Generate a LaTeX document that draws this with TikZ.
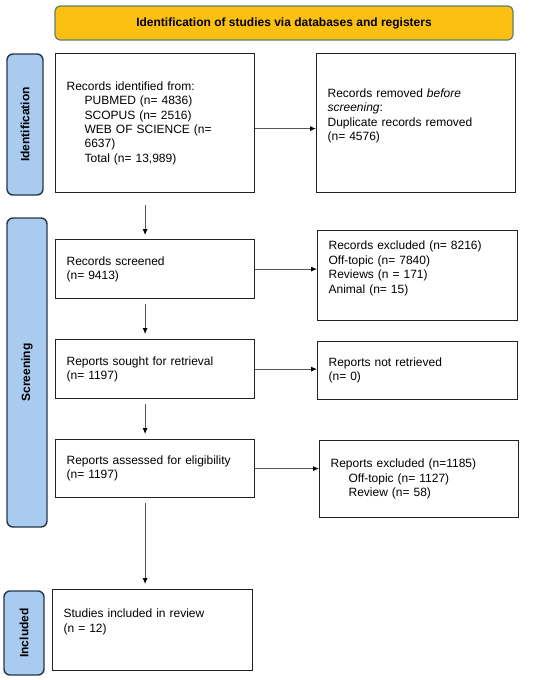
\documentclass[tikz,border=0pt]{standalone}
\usepackage{fontspec}
\setmainfont{Liberation Sans}
\usepackage{tikz}
\usetikzlibrary{arrows.meta, positioning, calc}
\definecolor{bannerGold}{HTML}{FCC012}
\definecolor{bannerEdge}{HTML}{5E7F6A}
\definecolor{phaseBlue}{HTML}{A9CBF0}
\definecolor{phaseEdge}{HTML}{27364A}
\definecolor{boxEdge}{HTML}{222222}
\definecolor{lineGray}{HTML}{555555}
\tikzset{
    % Common
    bodyText/.style={font=\fontsize{12}{14.4}\selectfont},
    arrowFlow/.style={-{Latex[length=6pt,width=5pt,color=black]}, line width=0.8pt, draw=lineGray,
        shorten <=5pt, shorten >=5pt},
    arrowSide/.style={-{Latex[length=6pt,width=5pt,color=black]}, line width=0.8pt, draw=lineGray},
    % Boxes
    headerBar/.style={rectangle, rounded corners=5pt, draw=bannerEdge, fill=bannerGold, line width=1.2pt,
        minimum width=458pt, minimum height=34pt, font=\fontsize{12}{14}\selectfont\bfseries},
    phaseBar/.style={rectangle, rounded corners=6pt, draw=phaseEdge, fill=phaseBlue, line width=1.4pt,
        rotate=90, inner sep=0pt, font=\fontsize{12}{14}\selectfont\bfseries},
    flowBox/.style={rectangle, draw=boxEdge, line width=1.2pt, anchor=north west, bodyText,
        align=left, inner xsep=11pt, inner ysep=0pt},
    % text sitting above the middle of its box
    highText/.style={text depth=#1}
}
\newcommand{\Ind}{\hspace*{18pt}}

\begin{document}
\begin{tikzpicture}[x=1pt, y=-1pt]
    \useasboundingbox (0,0) rectangle (550,680);

    % Header
    \node[headerBar] (header) at (284,23) {Identification of studies via databases and registers};

    % Phase bars
    \node[phaseBar, minimum width=141pt, minimum height=36pt] (idBar) at (25,124.5) {Identification};
    \node[phaseBar, minimum width=309pt, minimum height=40pt] (screenBar) at (27,372.5) {Screening};
    \node[phaseBar, minimum width=84pt, minimum height=40pt] (inclBar) at (24,633) {Included};

    % Left column
    \node[flowBox, minimum width=199pt, minimum height=139pt, text width=177pt] (idBox) at (55,53)
        {Records identified from:\\ \Ind PUBMED (n= 4836)\\ \Ind SCOPUS (n= 2516)\\
         \Ind WEB OF SCIENCE (n=\\ \Ind 6637)\\ \Ind Total (n= 13,989)};
    \node[flowBox, minimum width=199pt, minimum height=59pt, text width=177pt] (screenBox) at (55,239)
        {Records screened\\ (n= 9413)};
    \node[flowBox, minimum width=199pt, minimum height=59pt, text width=177pt] (soughtBox) at (55,339)
        {Reports sought for retrieval\\ (n= 1197)};
    \node[flowBox, minimum width=199pt, minimum height=58pt, text width=177pt] (assessBox) at (55,439)
        {Reports assessed for eligibility\\ (n= 1197)};
    \node[flowBox, highText=33pt, minimum width=200pt, minimum height=81pt, text width=178pt] (studyBox) at (52,589)
        {Studies included in review\\ (n = 12)};

    % Right column
    \node[flowBox, highText=60pt, minimum width=199pt, minimum height=139pt, text width=177pt] (removedBox) at (316,53)
        {Records removed \textit{before}\\ \textit{screening}:\\ Duplicate records removed\\ (n= 4576)};
    \node[flowBox, highText=60pt, minimum width=200pt, minimum height=90pt, text width=178pt] (exclBox) at (317,230)
        {Records excluded (n= 8216)\\ Off-topic (n= 7840)\\ Reviews (n = 171)\\ Animal (n= 15)};
    \node[flowBox, minimum width=200pt, minimum height=58pt, text width=178pt] (notBox) at (317,341)
        {Reports not retrieved\\ (n= 0)};
    \node[flowBox, minimum width=199pt, minimum height=77pt, text width=177pt] (reportExcl) at (319,440)
        {Reports excluded (n=1185)\\ \Ind Off-topic (n= 1127)\\ \Ind Review (n= 58)};

    % Side arrows
    \draw[arrowSide] ([yshift=-5.5pt]idBox.east) -- ([yshift=-5.5pt]idBox.east -| removedBox.west);
    \draw[arrowSide] (screenBox.east) -- (screenBox.east -| exclBox.west);
    \draw[arrowSide] (soughtBox.east) -- (soughtBox.east -| notBox.west);
    \draw[arrowSide] (assessBox.east) -- (assessBox.east -| reportExcl.west);

    % Down arrows
    \draw[arrowFlow, shorten <=12pt, shorten >=4pt] ([xshift=-10pt]idBox.south) -- ([xshift=-10pt]idBox.south |- screenBox.north);
    \draw[arrowFlow] ([xshift=-10pt]screenBox.south) -- ([xshift=-10pt]screenBox.south |- soughtBox.north);
    \draw[arrowFlow] ([xshift=-10pt]soughtBox.south) -- ([xshift=-10pt]soughtBox.south |- assessBox.north);
    \draw[arrowFlow] ([xshift=-10pt]assessBox.south) -- ([xshift=-10pt]assessBox.south |- studyBox.north);
\end{tikzpicture}
\end{document}
